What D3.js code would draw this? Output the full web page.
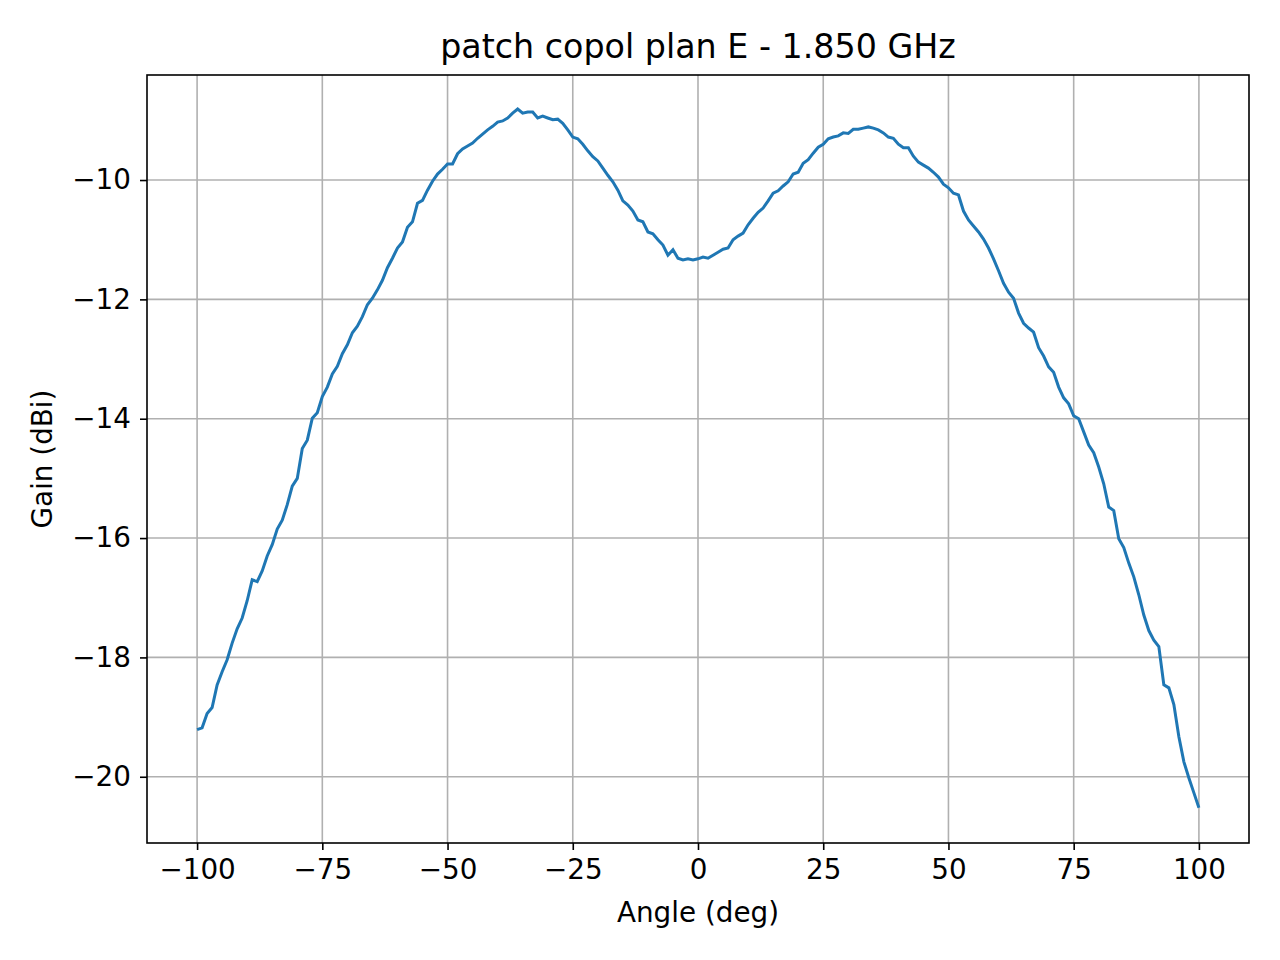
<!DOCTYPE html>
<html><head><meta charset="utf-8">
<script src="https://cdn.jsdelivr.net/npm/d3@7"></script>
<style>body{margin:0;background:#fff}svg{display:block}text{font-family:"DejaVu Sans",sans-serif}</style>
</head><body>
<script>
const angleStart = -100;
const gain = [-19.21,-19.18,-18.94,-18.84,-18.46,-18.24,-18.04,-17.76,-17.52,-17.34,-17.05,-16.70,-16.73,-16.55,-16.30,-16.11,-15.85,-15.70,-15.44,-15.13,-15.0,-14.5,-14.36,-13.99,-13.9,-13.63,-13.47,-13.25,-13.12,-12.91,-12.76,-12.56,-12.45,-12.29,-12.09,-11.98,-11.84,-11.68,-11.47,-11.31,-11.14,-11.04,-10.79,-10.70,-10.39,-10.34,-10.17,-10.02,-9.9,-9.82,-9.73,-9.73,-9.56,-9.48,-9.43,-9.38,-9.30,-9.23,-9.16,-9.10,-9.03,-9.01,-8.96,-8.88,-8.81,-8.88,-8.86,-8.86,-8.96,-8.93,-8.96,-8.99,-8.98,-9.05,-9.16,-9.28,-9.31,-9.40,-9.51,-9.61,-9.68,-9.80,-9.92,-10.03,-10.17,-10.35,-10.42,-10.52,-10.67,-10.70,-10.87,-10.90,-11.0,-11.09,-11.26,-11.17,-11.31,-11.34,-11.32,-11.34,-11.32,-11.29,-11.31,-11.26,-11.21,-11.16,-11.14,-11.0,-10.94,-10.89,-10.75,-10.64,-10.54,-10.47,-10.35,-10.22,-10.18,-10.10,-10.03,-9.90,-9.87,-9.72,-9.66,-9.55,-9.45,-9.40,-9.31,-9.28,-9.26,-9.21,-9.22,-9.15,-9.15,-9.13,-9.11,-9.13,-9.16,-9.21,-9.28,-9.30,-9.40,-9.46,-9.46,-9.60,-9.70,-9.75,-9.80,-9.87,-9.95,-10.07,-10.13,-10.22,-10.25,-10.52,-10.67,-10.77,-10.87,-10.99,-11.14,-11.32,-11.52,-11.73,-11.88,-11.98,-12.23,-12.40,-12.48,-12.55,-12.81,-12.95,-13.13,-13.22,-13.47,-13.65,-13.75,-13.95,-14.0,-14.22,-14.44,-14.57,-14.81,-15.09,-15.48,-15.54,-16.01,-16.16,-16.42,-16.65,-16.95,-17.29,-17.55,-17.71,-17.82,-18.46,-18.51,-18.79,-19.33,-19.75,-20.02,-20.27,-20.52];
const xTicks = [-100,-75,-50,-25,0,25,50,75,100];
const yTicks = [-20,-18,-16,-14,-12,-10];
const data = gain.map((g,i)=>[angleStart+i,g]);

const W=1280,H=960,L=147,R=1249,T=75,B=843;
const svg=d3.select("body").append("svg").attr("width",W).attr("height",H);
const x=d3.scaleLinear().domain([-110,110]).range([L,R]);
const y=d3.scaleLinear().domain([-21.11,-8.24]).range([B,T]);
const fmt=d=>String(d).replace("-","\u2212");
const g=svg.append("g");
g.selectAll(".gx").data(xTicks).join("line").attr("x1",d=>x(d)).attr("x2",d=>x(d)).attr("y1",T).attr("y2",B).attr("stroke","#b0b0b0").attr("stroke-width",1.6);
g.selectAll(".gy").data(yTicks).join("line").attr("y1",d=>y(d)).attr("y2",d=>y(d)).attr("x1",L).attr("x2",R).attr("stroke","#b0b0b0").attr("stroke-width",1.6);
svg.append("path").datum(data).attr("fill","none").attr("stroke","#1f77b4").attr("stroke-width",3)
 .attr("d",d3.line().x(d=>x(d[0])).y(d=>y(d[1])));
svg.append("g").attr("transform",`translate(0,${B})`).call(d3.axisBottom(x).tickValues(xTicks).tickFormat(fmt).tickSize(7).tickPadding(9))
 .call(a=>{a.select(".domain").remove();a.selectAll("line").attr("stroke","#000").attr("stroke-width",1.6);a.selectAll("text").attr("font-size",27.8).attr("font-family","DejaVu Sans").attr("fill","#000");});
svg.append("g").attr("transform",`translate(${L},0)`).call(d3.axisLeft(y).tickValues(yTicks).tickFormat(fmt).tickSize(7).tickPadding(9))
 .call(a=>{a.select(".domain").remove();a.selectAll("line").attr("stroke","#000").attr("stroke-width",1.6);a.selectAll("text").attr("font-size",27.8).attr("font-family","DejaVu Sans").attr("fill","#000");});
svg.append("rect").attr("x",L).attr("y",T).attr("width",R-L).attr("height",B-T).attr("fill","none").attr("stroke","#000").attr("stroke-width",1.6);
svg.append("text").attr("x",(L+R)/2).attr("y",58).attr("text-anchor","middle").attr("font-size",33.3).text("patch copol plan E - 1.850 GHz");
svg.append("text").attr("x",(L+R)/2).attr("y",922).attr("text-anchor","middle").attr("font-size",27.8).text("Angle (deg)");
svg.append("text").attr("transform",`translate(52,${(T+B)/2}) rotate(-90)`).attr("text-anchor","middle").attr("font-size",27.8).text("Gain (dBi)");
</script>
</body></html>
